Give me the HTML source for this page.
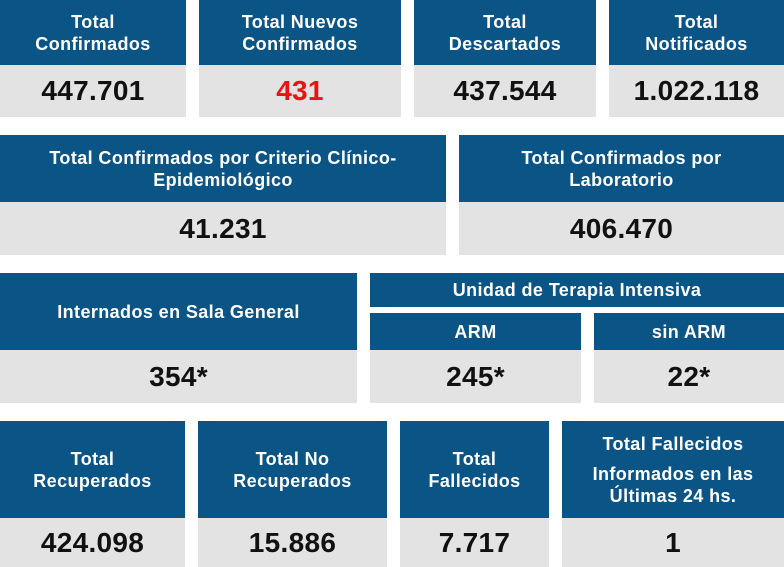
<!DOCTYPE html><html><head><style>
body{margin:0;width:784px;height:567px;background:#fff;position:relative;overflow:hidden;font-family:"Liberation Sans",sans-serif;font-weight:bold}
.b{position:absolute;background:#0b5586;color:#fff;display:flex;align-items:center;justify-content:center;text-align:center;font-size:18px;line-height:22px;letter-spacing:0.4px}
.v{position:absolute;background:#e3e3e3;color:#111;display:flex;align-items:center;justify-content:center;font-size:28px;letter-spacing:0.3px}
</style></head><body>
<div class="b" style="left:0;top:0;width:186px;height:65px">Total<br>Confirmados</div>
<div class="v" style="left:0;top:65px;width:186px;height:52px">447.701</div>
<div class="b" style="left:199px;top:0;width:202px;height:65px">Total Nuevos<br>Confirmados</div>
<div class="v" style="left:199px;top:65px;width:202px;height:52px;color:#ee1111">431</div>
<div class="b" style="left:414px;top:0;width:182px;height:65px">Total<br>Descartados</div>
<div class="v" style="left:414px;top:65px;width:182px;height:52px">437.544</div>
<div class="b" style="left:609px;top:0;width:175px;height:65px">Total<br>Notificados</div>
<div class="v" style="left:609px;top:65px;width:175px;height:52px">1.022.118</div>

<div class="b" style="left:0;top:135px;width:446px;height:67px">Total Confirmados por Criterio Clínico-<br>Epidemiológico</div>
<div class="v" style="left:0;top:202px;width:446px;height:53px">41.231</div>
<div class="b" style="left:459px;top:135px;width:325px;height:67px">Total Confirmados por<br>Laboratorio</div>
<div class="v" style="left:459px;top:202px;width:325px;height:53px">406.470</div>

<div class="b" style="left:0;top:273px;width:357px;height:77px">Internados en Sala General</div>
<div class="v" style="left:0;top:350px;width:357px;height:53px">354*</div>
<div class="b" style="left:370px;top:273px;width:414px;height:34px">Unidad de Terapia Intensiva</div>
<div class="b" style="left:370px;top:313px;width:211px;height:37px">ARM</div>
<div class="v" style="left:370px;top:350px;width:211px;height:53px">245*</div>
<div class="b" style="left:594px;top:313px;width:190px;height:37px">sin ARM</div>
<div class="v" style="left:594px;top:350px;width:190px;height:53px">22*</div>

<div class="b" style="left:0;top:421px;width:185px;height:97px">Total<br>Recuperados</div>
<div class="v" style="left:0;top:518px;width:185px;height:49px">424.098</div>
<div class="b" style="left:198px;top:421px;width:189px;height:97px">Total No<br>Recuperados</div>
<div class="v" style="left:198px;top:518px;width:189px;height:49px">15.886</div>
<div class="b" style="left:400px;top:421px;width:149px;height:97px">Total<br>Fallecidos</div>
<div class="v" style="left:400px;top:518px;width:149px;height:49px">7.717</div>
<div class="b" style="left:562px;top:421px;width:222px;height:97px;flex-direction:column">Total Fallecidos<div style="height:8px"></div>Informados en las<br>Últimas 24 hs.</div>
<div class="v" style="left:562px;top:518px;width:222px;height:49px">1</div>
</body></html>
